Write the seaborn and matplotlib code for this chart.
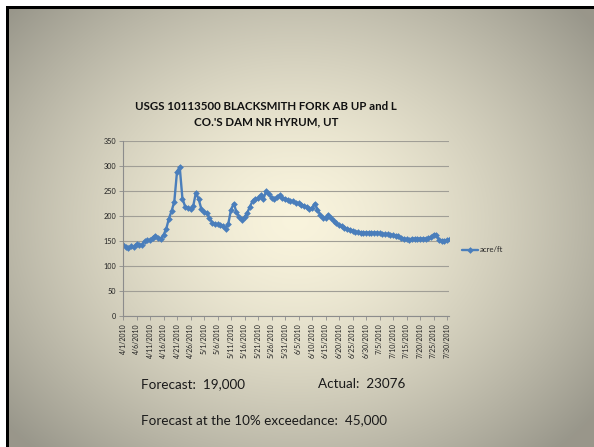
import numpy as np
import pandas as pd
import matplotlib
matplotlib.use("Agg")
import matplotlib.pyplot as plt
import seaborn as sns

# ---- data ----
start_date = "2010-04-01"
flow = [142, 139, 137, 140, 138, 144, 142, 143, 150, 152,
        152, 157, 161, 157, 155, 162, 174, 195, 210, 229,
        289, 298, 235, 219,
        217, 214, 220, 247, 234, 214, 209, 206, 196, 187,
        184, 184, 183, 180, 175, 185, 213, 225, 208, 198,
        193, 198, 206,
        219, 230, 234, 236, 242, 234, 250, 245, 236, 234,
        238, 242, 237, 235, 232, 230, 230, 227, 226, 223,
        221, 218, 214, 216, 225,
        213, 202, 196, 197, 203, 197, 191, 186, 182, 180,
        177, 175, 173, 171, 169, 168, 167, 167, 167, 167,
        167, 167, 167, 166,
        165, 164, 164, 163, 162, 161, 160, 157, 155, 154,
        153, 155, 155, 155, 155, 155, 155, 156, 158, 163,
        163, 152, 151, 151, 152, 154]
tick_labels = ["4/1/2010", "4/6/2010", "4/11/2010", "4/16/2010", "4/21/2010",
               "4/26/2010", "5/1/2010", "5/6/2010", "5/11/2010", "5/16/2010",
               "5/21/2010", "5/26/2010", "5/31/2010", "6/5/2010", "6/10/2010",
               "6/15/2010", "6/20/2010", "6/25/2010", "6/30/2010", "7/5/2010",
               "7/10/2010", "7/15/2010", "7/20/2010", "7/25/2010", "7/30/2010"]
yticks = [0, 50, 100, 150, 200, 250, 300, 350]
series_name = "acre/ft"
title = "USGS 10113500 BLACKSMITH FORK AB UP and L\nCO.'S DAM NR HYRUM, UT"
text_forecast = "Forecast:  19,000"
text_actual = "Actual:  23076"
text_exceed = "Forecast at the 10% exceedance:  45,000"

dates = pd.date_range(start_date, periods=len(flow), freq="D")
df = pd.DataFrame({"day": np.arange(len(flow)), "date": dates, "flow": flow})

sns.set_theme(style="white")
plt.rcParams["font.family"] = ["Lato", "DejaVu Sans"]

W, H = 594, 447
fig = plt.figure(figsize=(W / 100, H / 100), dpi=100)

# ---- slide background: radial gradient ----
bg = fig.add_axes([0, 0, 1, 1])
yy, xx = np.mgrid[0:H, 0:W]
cx, cy = 295, 220
r = np.sqrt(((xx - cx) / 400.0) ** 2 + ((yy - cy) / 330.0) ** 2)
c_center = np.array([0.975, 0.955, 0.865])
c_edge = np.array([0.600, 0.592, 0.545])
t = np.clip(r / 0.95, 0, 1) ** 1.5
img = c_center[None, None, :] * (1 - t[..., None]) + c_edge[None, None, :] * t[..., None]
# white margin and black frame at top/left
img[:6, :, :] = 1.0
img[:, :6, :] = 1.0
img[6:9, 6:, :] = 0.0
img[6:, 6:9, :] = 0.0
bg.imshow(img, extent=[0, W, H, 0], aspect="auto", interpolation="bilinear")
bg.set_xlim(0, W)
bg.set_ylim(H, 0)
bg.axis("off")

# ---- chart ----
left, right, top, bottom = 123, 449, 141, 316
ax = fig.add_axes([left / W, 1 - bottom / H, (right - left) / W, (bottom - top) / H])
ax.patch.set_alpha(0)

line_color = "#4a7ebb"
sns.lineplot(data=df, x="day", y="flow", ax=ax, color=line_color, linewidth=1.7,
             marker="D", markersize=3.4, markeredgewidth=0, label=series_name,
             legend=False)

ax.set_xlim(0, 120.7)
ax.set_ylim(0, 350)
ax.set_yticks(yticks)
ax.set_yticklabels([str(v) for v in yticks], fontsize=5.2, color="#222222")
ax.set_xticks(np.arange(0, len(flow), 5)[:len(tick_labels)])
ax.set_xticklabels(tick_labels, rotation=90, fontsize=5.0, color="#222222")
ax.set_xlabel("")
ax.set_ylabel("")
ax.grid(axis="y", color="#a09e96", linewidth=0.8)
ax.grid(axis="x", visible=False)
for s in ["top", "right"]:
    ax.spines[s].set_visible(False)
for s in ["left", "bottom"]:
    ax.spines[s].set_color("#8c8c8c")
    ax.spines[s].set_linewidth(0.8)
ax.tick_params(axis="both", which="major", length=3, width=0.6, color="#8c8c8c",
               pad=2, left=True, bottom=True, direction="out")

# legend
ax.legend(loc="center left", bbox_to_anchor=((462 - left) / (right - left), (bottom - 250) / (bottom - top)),
          frameon=False, fontsize=5.6, handlelength=2.0, handletextpad=0.25,
          borderaxespad=0, borderpad=0)

# title
fig.text(266 / W, 1 - 114 / H, title, ha="center", va="center", fontsize=8.3,
         fontweight="bold", color="#111111", linespacing=1.5)

# slide texts
fig.text(141 / W, 1 - 384 / H, text_forecast, ha="left", va="center", fontsize=9.7, color="#1a1a1a")
fig.text(318 / W, 1 - 384 / H, text_actual, ha="left", va="center", fontsize=9.7, color="#1a1a1a")
fig.text(141 / W, 1 - 420 / H, text_exceed, ha="left", va="center", fontsize=9.7, color="#1a1a1a")

fig.savefig("out.png", dpi=100)
